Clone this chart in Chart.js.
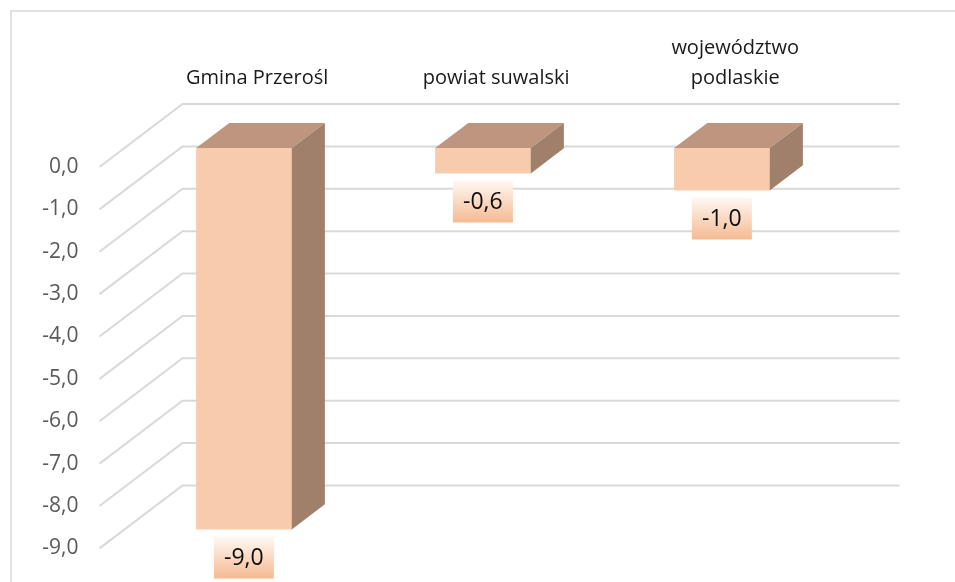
<!DOCTYPE html>
<html>
<head>
<meta charset="utf-8">
<script src="https://cdn.jsdelivr.net/npm/chart.js@4/dist/chart.umd.min.js"></script>
<style>
  html, body { margin: 0; padding: 0; background: #ffffff; }
  canvas { display: block; }
</style>
</head>
<body>
<canvas id="chart" width="955" height="582"></canvas>
<script>
// Categories (multi-line labels are arrays of lines)
const categories = [['Gmina Przerośl'], ['powiat suwalski'], ['województwo', 'podlaskie']];
// Values per category
const values = [-9.0, -0.6, -1.0];
// Value axis range and step
const axisMin = -9;
const axisMax = 0;
const axisStep = 1;

// 3D look: offset from the front plane to the back wall, and where the box sits in depth
const DEPTH_X = 83;
const DEPTH_Y = -63;
const FRONT = 0.3;
const BACK = 0.7;

const COLORS = {
  front: '#F8CBAD',
  top: '#BE9680',
  side: '#A0806A',
  wall: '#D9D9D9',
  border: '#D9D9D9',
  tick: '#595959',
  category: '#1A1A1A',
  label: '#0D0D0D'
};

const fmt = v => v.toFixed(1).replace('.', ',').replace(/^-0,0$/, '0,0');

const box3d = {
  id: 'box3d',
  beforeDraw(chart) {
    const ctx = chart.ctx;
    ctx.save();
    ctx.fillStyle = '#ffffff';
    ctx.fillRect(0, 0, chart.width, chart.height);
    ctx.strokeStyle = COLORS.border;
    ctx.lineWidth = 1.5;
    ctx.strokeRect(11, 11, chart.width + 20, chart.height + 20);
    ctx.restore();
  },
  beforeDatasetsDraw(chart) {
    const ctx = chart.ctx;
    const y = chart.scales.y;
    const area = chart.chartArea;
    ctx.save();
    ctx.strokeStyle = COLORS.wall;
    ctx.lineWidth = 2;
    y.ticks.forEach(t => {
      const py = y.getPixelForValue(t.value);
      ctx.beginPath();
      ctx.moveTo(area.left, py);
      ctx.lineTo(area.left + DEPTH_X, py + DEPTH_Y);
      ctx.lineTo(area.right + DEPTH_X, py + DEPTH_Y);
      ctx.stroke();
    });
    ctx.restore();
    // front faces are drawn by the library, pushed into the depth of the box
    ctx.save();
    ctx.translate(DEPTH_X * FRONT, DEPTH_Y * FRONT);
  },
  afterDatasetsDraw(chart) {
    const ctx = chart.ctx;
    ctx.restore();
    const meta = chart.getDatasetMeta(0);
    const fx = DEPTH_X * FRONT, fy = DEPTH_Y * FRONT;
    const dx = DEPTH_X * (BACK - FRONT), dy = DEPTH_Y * (BACK - FRONT);
    ctx.save();
    meta.data.forEach((el, i) => {
      const p = el.getProps(['x', 'y', 'base', 'width'], true);
      const left = p.x - p.width / 2 + fx;
      const right = p.x + p.width / 2 + fx;
      const top = Math.min(p.y, p.base) + fy;
      const bottom = Math.max(p.y, p.base) + fy;

      // top face
      ctx.fillStyle = COLORS.top;
      ctx.beginPath();
      ctx.moveTo(left, top);
      ctx.lineTo(right, top);
      ctx.lineTo(right + dx, top + dy);
      ctx.lineTo(left + dx, top + dy);
      ctx.closePath();
      ctx.fill();

      // side face
      ctx.fillStyle = COLORS.side;
      ctx.beginPath();
      ctx.moveTo(right, top);
      ctx.lineTo(right + dx, top + dy);
      ctx.lineTo(right + dx, bottom + dy);
      ctx.lineTo(right, bottom);
      ctx.closePath();
      ctx.fill();

      // value label with gradient box
      const cx = (left + right) / 2;
      const bw = 60, bh = 42;
      const by = bottom + 7;
      const g = ctx.createLinearGradient(0, by, 0, by + bh);
      g.addColorStop(0, '#FFF8F3');
      g.addColorStop(1, '#F5BA92');
      ctx.fillStyle = g;
      ctx.fillRect(cx - bw / 2, by, bw, bh);
      ctx.fillStyle = COLORS.label;
      ctx.font = '23px "Open Sans"';
      ctx.textAlign = 'center';
      ctx.textBaseline = 'middle';
      ctx.fillText(fmt(values[i]), cx, by + bh / 2 + 1);

      // category label above the box, at mid-depth
      const lines = categories[i];
      const lx = p.x + DEPTH_X * 0.46;
      ctx.fillStyle = COLORS.category;
      ctx.font = '20px "Open Sans"';
      lines.forEach((ln, k) => {
        ctx.fillText(ln, lx, 78 - (lines.length - 1 - k) * 30);
      });
    });
    ctx.restore();
  }
};

new Chart(document.getElementById('chart'), {
  type: 'bar',
  data: {
    labels: categories,
    datasets: [{
      data: values,
      backgroundColor: COLORS.front,
      borderWidth: 0,
      barPercentage: 0.4,
      categoryPercentage: 1,
      clip: false
    }]
  },
  options: {
    responsive: false,
    animation: false,
    devicePixelRatio: 1,
    layout: { padding: { left: 0, right: 138.5, top: 167, bottom: 32 } },
    plugins: { legend: { display: false }, tooltip: { enabled: false } },
    scales: {
      x: { display: false },
      y: {
        min: axisMin,
        max: axisMax,
        afterFit(scale) { scale.width = 99.5; },
        grid: { display: false, drawTicks: false },
        border: { display: false },
        ticks: {
          stepSize: axisStep,
          padding: 21,
          color: COLORS.tick,
          font: { family: 'Open Sans', size: 21 },
          callback: v => fmt(v)
        }
      }
    }
  },
  plugins: [box3d]
});
</script>
</body>
</html>
